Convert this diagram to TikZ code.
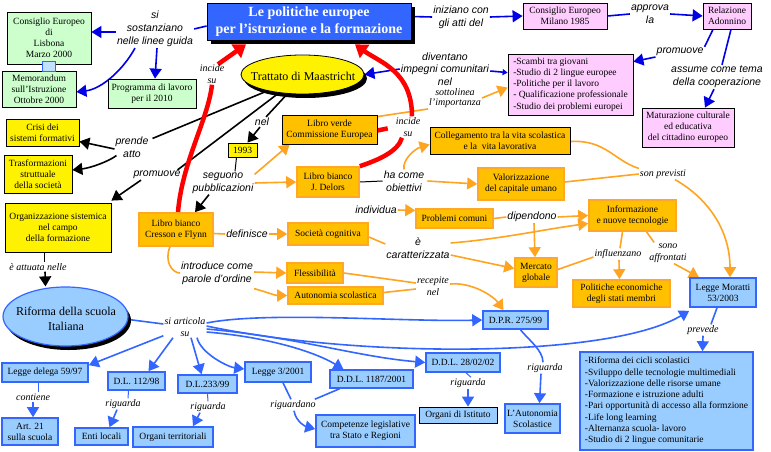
\documentclass[tikz,border=0pt]{standalone}
\usepackage{fontspec}
\setmainfont{Liberation Serif}
\setsansfont{Liberation Sans}
\usetikzlibrary{arrows.meta,shadows,shapes.geometric,backgrounds}

\definecolor{tblue}{RGB}{51,102,255}
\definecolor{dblue}{RGB}{0,0,230}
\definecolor{lblue}{RGB}{153,204,255}
\definecolor{lgreen}{RGB}{204,255,204}
\definecolor{lpink}{RGB}{255,204,255}
\definecolor{ogold}{RGB}{255,192,0}
\definecolor{oline}{RGB}{255,164,32}
\definecolor{oborder}{RGB}{255,168,40}

\tikzset{
 cbox/.style={rectangle, align=center, inner sep=1pt, line width=0.8pt, font=\fontsize{9.5}{11}\selectfont},
 sz/.style 2 args={minimum width=#1pt, minimum height=#2pt},
 gbox/.style={cbox, draw=black, fill=lgreen},
 pbox/.style={cbox, draw=black, fill=lpink},
 ybox/.style={cbox, draw=black, fill=yellow},
 kobox/.style={cbox, draw=black, fill=ogold},
 obox/.style={cbox, draw=oborder, fill=ogold, line width=1.6pt},
 bbox/.style={cbox, draw=tblue, fill=lblue, line width=1.6pt},
 lab/.style={inner sep=1pt, align=center, font=\sffamily\itshape\fontsize{10.5}{13}\selectfont},
 labs/.style={inner sep=1pt, align=center, font=\itshape\fontsize{10}{12}\selectfont},
 ahead/.style={-{Triangle[length=10pt,width=12pt]}},
 lnB/.style={draw=dblue, line width=1.6pt},
 lnBA/.style={lnB, ahead},
 lnL/.style={draw=tblue, line width=1.6pt},
 lnLA/.style={lnL, ahead},
 lnO/.style={draw=oline, line width=1.6pt},
 lnOA/.style={lnO, ahead},
 lnK/.style={draw=black, line width=1.6pt},
 lnKA/.style={lnK, ahead},
 lnR/.style={draw=red, line width=4.5pt},
 lnRA/.style={lnR, -{Triangle[length=12pt,width=16pt]}},
 blackshadow/.style={drop shadow={shadow xshift=4pt, shadow yshift=-4pt, fill=black, opacity=1}},
 titlebox/.style={rectangle, draw=black, fill=tblue, text=white, line width=0.8pt, align=center,
   font=\bfseries\fontsize{14}{17}\selectfont, minimum width=204pt, minimum height=37pt, inner sep=1pt, blackshadow}
}

\begin{document}
\begin{tikzpicture}[x=1pt,y=-1pt]
\useasboundingbox (0,0) rectangle (771,452);

% ---------- nodes ----------
\node[titlebox] (T) at (309,21.5) {Le politiche europee\\per l'istruzione e la formazione};

\node[gbox, sz={84}{52}] (lis) at (49,38) {Consiglio Europeo\\di\\Lisbona\\Marzo 2000};
\node[gbox, sz={74}{36}] (mem) at (39,89) {Memorandum\\sull'Istruzione\\Ottobre 2000};
\node[draw=tblue, fill=lblue!60, line width=0.6pt, minimum width=13pt, minimum height=10pt, inner sep=0pt] (icn) at (49,66) {};
\node[gbox, sz={88}{29}] (prog) at (152,93.5) {Programma di lavoro\\per il 2010};

\node[pbox, sz={84}{26}] (mil) at (565,16) {Consiglio Europeo\\Milano 1985};
\node[pbox, sz={48}{26}] (ado) at (727,16) {Relazione\\Adonnino};
\node[pbox, sz={125}{61}, align=left, font=\fontsize{9.5}{11.2}\selectfont] (sca) at (570.5,84.5)
 {-Scambi tra giovani\\-Studio di 2 lingue europee\\-Politiche per il lavoro\\- Qualificazione professionale\\-Studio dei problemi europei};
\node[pbox, sz={92}{39}] (mat) at (688,127.5) {Maturazione culturale\\ed educativa\\del cittadino europeo};

\node[ybox, sz={73}{27}] (cri) at (42.5,132.5) {Crisi dei\\sistemi formativi};
\node[ybox, sz={68}{38}] (tra) at (38,174) {Trasformazioni\\struttuale\\della società};
\node[ybox, sz={106}{49}] (org) at (58,227.5) {Organizzazione sistemica\\nel campo\\della formazione};
\node[ybox, sz={29}{14}] (y93) at (242.5,150) {1993};

\node[kobox, sz={95}{29}] (lv) at (329.5,129.5) {Libro verde\\Commissione Europea};
\node[kobox, sz={140}{27}] (col) at (500,140.5) {Collegamento tra la vita scolastica\\e la\ \ vita lavorativa};
\node[obox, sz={62}{30}] (jd) at (328,182) {Libro bianco\\J. Delors};
\node[obox, sz={86}{32}] (val) at (521,184) {Valorizzazione\\del capitale umano};
\node[obox, sz={77}{19}] (pro) at (454.5,218.5) {Problemi comuni};
\node[obox, sz={87}{31}] (inf) at (632.5,215.5) {Informazione\\e nuove tecnologie};
\node[obox, sz={42}{29}] (mer) at (536,272.5) {Mercato\\globale};
\node[obox, sz={97}{27}] (pol) at (621.5,293.5) {Politiche economiche\\degli stati membri};
\node[obox, sz={74}{33}] (cre) at (176,229.5) {Libro bianco\\Cresson e Flynn};
\node[obox, sz={80}{22}] (soc) at (328,234) {Società cognitiva};
\node[obox, sz={56}{20}] (fle) at (315,273) {Flessibilità};
\node[obox, sz={95}{17}] (aut) at (335.5,295.5) {Autonomia scolastica};

\node[bbox, sz={66}{29}] (mor) at (723,292.5) {Legge Moratti\\53/2003};
\node[bbox, sz={65}{18}] (dpr) at (515.5,320) {D.P.R. 275/99};
\node[bbox, sz={86}{19}] (ld) at (45,372.5) {Legge delega 59/97};
\node[bbox, sz={57}{18}] (dl112) at (136.5,381) {D.L. 112/98};
\node[bbox, sz={59}{18}] (dl233) at (207.5,384) {D.L.233/99};
\node[bbox, sz={66}{20}] (l3) at (278,372) {Legge 3/2001};
\node[bbox, sz={83}{18}] (dd1) at (371.5,379) {D.D.L. 1187/2001};
\node[bbox, sz={74}{19}] (dd2) at (463,362.5) {D.D.L. 28/02/02};
\node[bbox, sz={56}{27}] (art) at (30,431.5) {Art. 21\\sulla scuola};
\node[bbox, sz={53}{17}] (ent) at (101.5,436.5) {Enti locali};
\node[bbox, sz={80}{20}] (ort) at (173,437) {Organi territoriali};
\node[bbox, sz={99}{32}] (com) at (365.5,431) {Competenze legislative\\tra Stato e Regioni};
\node[cbox, draw=black, fill=lblue, sz={78}{16}] (ois) at (458,415) {Organi di Istituto};
\node[bbox, sz={55}{29}] (aus) at (532.5,418.5) {L'Autonomia\\Scolastice};
\node[bbox, sz={173}{98}, align=left, font=\fontsize{9.5}{11.3}\selectfont] (lst) at (666.5,401)
 {-Riforma dei cicli scolastici\\-Sviluppo delle tecnologie multimediali\\-Valorizzazione delle risorse umane\\-Formazione e istruzione adulti\\-Pari opportunità di accesso alla formzione\\-Life long learning\\-Alternanza scuola- lavoro\\-Studio di 2 lingue comunitarie};

\node[ellipse, draw=black, fill=yellow, line width=0.8pt, minimum width=123pt, minimum height=39pt, inner sep=0pt,
  drop shadow={shadow xshift=3pt, shadow yshift=-4pt, fill=black, opacity=1}] (maa) at (302.5,74.5) {};
\node[inner sep=0pt, font=\fontsize{12}{14}\selectfont] (maat) at (303,76) {Trattato di Maastricht};
\node[ellipse, draw=tblue, fill=lblue, line width=1.2pt, minimum width=125pt, minimum height=59pt, inner sep=0pt,
  drop shadow={shadow xshift=3pt, shadow yshift=-4pt, fill=black, opacity=1}] (rif) at (65.5,316.5) {};
\node[inner sep=0pt, align=center, font=\fontsize{12}{15}\selectfont] (rift) at (66,319) {Riforma della scuola\\Italiana};

% ---------- labels ----------
\node[lab] (lsost) at (155,29) {si\\sostanziano\\nelle linee guida};
\node[lab] (linz) at (461,17) {iniziano con\\gli atti del};
\node[lab] (lapp) at (650,14) {approva\\la};
\node[lab] (lprom1) at (680,52) {promuove};
\node[lab] (lass) at (717,77) {assume come tema\\della cooperazione};
\node[lab, font=\sffamily\itshape\fontsize{10.5}{12.5}\selectfont] (ldiv) at (445,69) {diventano\\impegni comunitari\\nel};
\node[labs, font=\itshape\fontsize{10}{10.5}\selectfont] (lsott) at (455,98) {sottolinea\\l'importanza};
\node[labs] (linc1) at (212,74) {incide\\su};
\node[labs] (linc2) at (408,127) {incide\\su};
\node[lab] (lpre) at (132,147) {prende\\atto};
\node[lab] (lprom2) at (157,175) {promuove};
\node[lab] (lnel) at (262,122) {nel};
\node[lab] (lseg) at (223,183) {seguono\\pubblicazioni};
\node[lab] (lha) at (404,181) {ha come\\obiettivi};
\node[labs] (lson) at (663,174) {son previsti};
\node[lab] (lind) at (376,210) {individua};
\node[lab] (ldip) at (532,217) {dipendono};
\node[lab] (lcar) at (418,248) {è\\caratterizzata};
\node[labs] (linf) at (618,254) {influenzano};
\node[labs] (laff) at (668,253) {sono\\affrontati};
\node[lab] (ldef) at (247,234) {definisce};
\node[lab] (lint) at (217,273) {introduce come\\parole d'ordine};
\node[labs] (lrec) at (433,286) {recepite\\nel};
\node[labs] (latt) at (38,267) {è attuata nelle};
\node[labs] (lart) at (185,327) {si articola\\su};
\node[labs] (lcon) at (33,397) {contiene};
\node[labs] (lrig1) at (123,404) {riguarda};
\node[labs] (lrig2) at (208,407) {riguarda};
\node[labs] (lrig3) at (293,405) {riguardano};
\node[labs] (lrig4) at (468,383) {riguarda};
\node[labs] (lrig5) at (545,368) {riguarda};
\node[labs] (lprev) at (703,330) {prevede};

% ---------- connectors ----------
\begin{scope}[on background layer]
\fill[white] (0,0) rectangle (771,452);
% dark blue (top)
\draw[lnB] ([yshift=-4.5pt]T.west) -- (lsost.east);
\draw[lnBA] ([yshift=-3pt]lsost.west) -- ([yshift=6pt]lis.east);
\draw[lnBA] ([xshift=2pt]lsost.south) -- ([xshift=3pt]prog.north);
\draw[lnBA] ([xshift=-20pt]lsost.south) .. controls +(-12,22) and +(25,-3) .. ([yshift=-3pt]mem.east);
\draw[lnB] ([yshift=5pt]T.east) -- (linz.west);
\draw[lnBA] (linz.east) -- (mil.west);
\draw[lnB] (mil.east) -- (lapp.west);
\draw[lnBA] (lapp.east) -- (ado.west);
\draw[lnB] ([xshift=-14pt]ado.south) -- (lprom1.north east);
\draw[lnBA] ([yshift=-5pt]lprom1.west) -- ([yshift=-8pt]sca.north east);
\draw[lnB] ([xshift=4pt]ado.south) -- ([xshift=5pt]lass.north);
\draw[lnBA] ([xshift=-3pt]lass.south) -- ([xshift=17pt]mat.north);
\draw[lnBA] (ldiv.west) -- (maa.east);
\draw[lnB, -{Triangle[length=5pt,width=6pt]}] ([yshift=-2pt]ldiv.east) -- ([yshift=-19pt]sca.north west);
% orange
\draw[lnO] ([yshift=-2pt]lv.north east) -- (lsott.south west);
\draw[lnOA] (lsott.east) -- ([yshift=-3pt]sca.west);
\draw[lnOA] ([yshift=-3pt]lseg.north east) -- ([xshift=8pt]lv.south west);
\draw[lnOA] (lseg.east) -- (jd.west);
\draw[lnK, line width=1pt] (jd.east) -- (lha.west);
\draw[lnOA] ([xshift=2pt]lha.east) -- (val.west);
\draw[lnOA] (lha.north) .. controls +(-2,-10) and +(-14,4) .. ([yshift=-4pt]col.west);
\draw[lnO] ([yshift=-1pt]col.east) .. controls +(35,-2) and +(-25,-8) .. (lson.north west);
\draw[lnO] ([yshift=2pt]val.east) -- (lson.west);
\draw[lnOA] ([xshift=12pt]lson.south) .. controls +(35,20) and +(0,-45) .. ([xshift=7pt]mor.north);
\draw[lnOA] (lind.east) -- ([yshift=8pt]pro.west);
\draw[lnO] (pro.east) -- (ldip.west);
\draw[lnOA] (ldip.east) -- (inf.west);
\draw[lnOA] ([xshift=2pt]ldip.south) -- ([xshift=-1pt]mer.north);
\draw[lnO] ([yshift=-4pt]cre.east) -- (ldef.west);
\draw[lnOA] (ldef.east) -- (soc.west);
\draw[lnO] ([yshift=-3pt]soc.east) -- ([yshift=4pt]lcar.west);
\draw[lnOA] ([yshift=5pt]lcar.east) .. controls +(50,-4) and +(-45,6) .. ([yshift=-8pt]inf.west);
\draw[lnOA] ([yshift=-7pt]lcar.east) -- ([yshift=4pt]mer.west);
\draw[lnO] ([yshift=3pt]mer.east) -- ([yshift=-3pt]linf.west);
\draw[lnO] ([xshift=-10pt]inf.south) -- ([xshift=2pt]linf.north);
\draw[lnOA] ([xshift=1pt]linf.south) -- ([xshift=-2pt]pol.north);
\draw[lnO] ([xshift=14pt]inf.south) -- ([xshift=6pt]laff.north west);
\draw[lnOA] ([xshift=6pt]laff.south) -- ([xshift=-24pt]mor.north);
\draw[lnO] ([xshift=-6pt]cre.south) .. controls +(-6,14) and +(-8,0) .. (lint.west);
\draw[lnOA] ([yshift=1pt]lint.east) -- (fle.west);
\draw[lnOA] ([yshift=-3pt]lint.south east) .. controls +(14,4) and +(-12,0) .. (aut.west);
\draw[lnO] (fle.east) -- ([yshift=3pt]lrec.west);
\draw[lnO] ([yshift=3pt]aut.east) -- ([yshift=-3pt]lrec.west);
\draw[lnOA] ([yshift=2pt]lrec.east) .. controls +(22,-2) and +(-10,-14) .. ([xshift=-12pt]dpr.north);
% black
\draw[lnK, line width=1pt] ([xshift=-6pt]y93.south) -- ([xshift=12pt]lseg.north);
\draw[lnKA] ([xshift=-14pt]lseg.south) -- ([xshift=19pt]cre.north);
\draw[lnK] (maa.205) -- ([xshift=3pt,yshift=-3pt]lpre.north east);
\draw[lnK] (maa.218) -- ([xshift=-4pt]lprom2.north east);
\draw[lnK] (maa.232) -- ([xshift=4pt]lnel.north);
\draw[lnKA] ([xshift=-2pt]lnel.south) -- ([xshift=5pt]y93.north);
\draw[lnKA] ([yshift=-2pt]lpre.west) -- ([yshift=-9pt]cri.east);
\draw[lnKA] ([xshift=2pt,yshift=3pt]lpre.south west) .. controls +(-8,6) and +(18,-2) .. ([yshift=4pt]tra.east);
\draw[lnKA] ([xshift=-16pt]lprom2.south) -- ([yshift=2pt]org.north east);
\draw[lnK, line width=1pt] ([xshift=-14pt]org.south) -- ([xshift=6pt]latt.north);
\draw[lnKA] ([xshift=7pt]latt.south) -- ([xshift=-20pt]rif.north);
% light blue (bottom)
\draw[lnL] ([yshift=-3pt]rif.east) -- ([yshift=3pt]lart.west);
\draw[lnLA] ([yshift=2pt]lart.south west) -- ([yshift=-3pt]ld.north east);
\draw[lnLA] ([xshift=-12pt]lart.south) -- ([xshift=12pt]dl112.north);
\draw[lnLA] ([xshift=6pt]lart.south) -- ([xshift=-6pt]dl233.north);
\draw[lnLA] ([xshift=12pt]lart.south) .. controls +(4,16) and +(-16,-2) .. ([yshift=3pt]l3.west);
\draw[lnLA] ([yshift=-5pt]lart.east) .. controls +(60,5) and +(-30,-18) .. ([xshift=-28pt]dd1.north);
\draw[lnLA] ([yshift=-2pt]lart.east) .. controls +(90,8) and +(-70,-6) .. (dd2.west);
\draw[lnLA] ([yshift=4pt]lart.east) .. controls +(60,-12) and +(-80,2) .. (dpr.west);
\draw[lnLA] ([yshift=1pt]lart.east) .. controls +(150,32) and +(-80,48) .. ([yshift=-3pt]mor.south west);
\draw[lnL, line width=1pt] ([xshift=-7pt]ld.south) -- ([xshift=5pt]lcon.north);
\draw[lnLA] (lcon.south) -- ([xshift=3pt]art.north);
\draw[lnL, line width=1pt] ([xshift=-8pt]dl112.south) -- ([xshift=5pt]lrig1.north);
\draw[lnLA] ([xshift=-6pt]lrig1.south) -- ([xshift=8pt]ent.north);
\draw[lnL, line width=1pt] (dl233.south) -- (lrig2.north);
\draw[lnLA] ([xshift=-8pt]lrig2.south) -- ([xshift=20pt]ort.north);
\draw[lnL] ([xshift=5pt]l3.south) -- ([xshift=-2pt]lrig3.north);
\draw[lnL] ([xshift=-32pt]dd1.south) -- ([xshift=-2pt]lrig3.north east);
\draw[lnLA] ([xshift=1pt]lrig3.south) .. controls +(2,12) and +(-8,-2) .. ([yshift=2pt]com.west);
\draw[lnL, line width=1pt] ([xshift=3pt]dd2.south) -- ([xshift=3pt]lrig4.north);
\draw[lnLA] (lrig4.south) -- ([xshift=10pt]ois.north);
\draw[lnL] ([xshift=5pt]dpr.south) .. controls +(8,10) and +(0,-12) .. ([xshift=-2pt]lrig5.north);
\draw[lnLA] ([xshift=-4pt]lrig5.south) -- ([xshift=7pt]aus.north);
\draw[lnL] ([xshift=-6pt]mor.south) -- ([xshift=8pt]lprev.north);
\draw[lnLA] (lprev.south) -- ([xshift=36pt]lst.north);
% red
\draw[lnR] ([xshift=2pt]cre.north) .. controls +(4,-50) and +(-4,35) .. (linc1.south);
\draw[lnRA] ([xshift=6pt,yshift=-1pt]linc1.north) -- ([xshift=-63pt,yshift=-4pt]T.south);
\draw[lnR] (jd.north east) .. controls +(18,-6) and +(-4,14) .. ([xshift=-6pt]linc2.south);
\draw[lnR, shorten >=7pt] ([yshift=-1pt]lv.east) -- (linc2.west);
\draw[lnRA] ([xshift=4pt]linc2.north) .. controls +(0,-45) and +(25,18) .. ([xshift=46pt,yshift=-4pt]T.south);
\end{scope}
\end{tikzpicture}
\end{document}
